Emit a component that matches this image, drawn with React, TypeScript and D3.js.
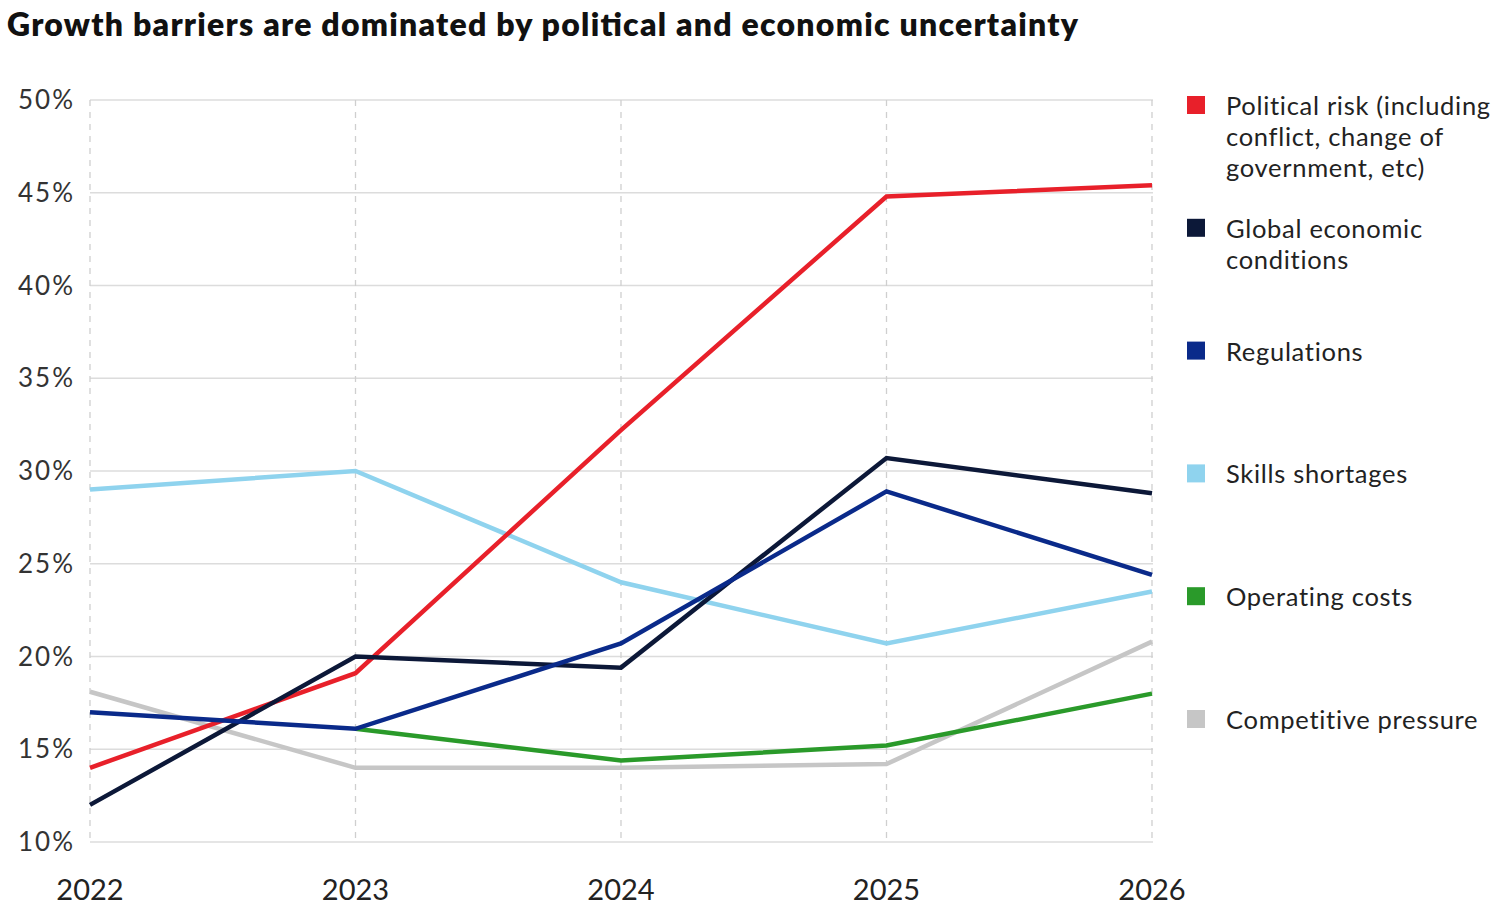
import React from "react";
import * as d3 from "d3";

const years = ["2022", "2023", "2024", "2025", "2026"];
const yTicks = [10, 15, 20, 25, 30, 35, 40, 45, 50];

const competitive = [18.1, 14, 14, 14.2, 20.8];
const skills = [29, 30, 24, 20.7, 23.5];
const operating: (number | null)[] = [null, 16.1, 14.4, 15.2, 18];
const political = [14, 19.1, 32.2, 44.8, 45.4];
const global = [12, 20, 19.4, 30.7, 28.8];
const regulations = [17, 16.1, 20.7, 28.9, 24.4];

const seriesNames = [
  "Competitive pressure",
  "Skills shortages",
  "Operating costs",
  "Political risk",
  "Global economic conditions",
  "Regulations",
];
const seriesValues = [competitive, skills, operating, political, global, regulations];
const seriesColors = ["#c6c6c6", "#8fd3ee", "#2a9a2a", "#e8202a", "#0c1838", "#0a2a8a"];

const legendLabels = [
  ["Political risk (including", "conflict, change of", "government, etc)"],
  ["Global economic", "conditions"],
  ["Regulations"],
  ["Skills shortages"],
  ["Operating costs"],
  ["Competitive pressure"],
];
const legendColors = ["#e8202a", "#0c1838", "#0a2a8a", "#8fd3ee", "#2a9a2a", "#c6c6c6"];

export default function App() {
  const width = 1500;
  const height = 922;
  const x = d3.scalePoint<string>().domain(years).range([90, 1152]);
  const y = d3.scaleLinear().domain([10, 50]).range([842, 100]);
  const line = d3
    .line<number | null>()
    .defined((d) => d != null)
    .x((_, i) => x(years[i]) as number)
    .y((d) => y(d as number));

  const font = "Lato, 'Open Sans', sans-serif";

  return (
    <svg
      width={width}
      height={height}
      style={{ position: "absolute", left: 0, top: 0, background: "#fff" }}
      fontFamily={font}
    >
      <text
        x={7}
        y={36}
        fontSize={32}
        fontWeight={800}
        fill="#111"
        textLength={1071}
        lengthAdjust="spacing"
      >
        Growth barriers are dominated by political and economic uncertainty
      </text>
      {yTicks.map((t) => (
        <g key={t}>
          <line x1={90} x2={1153} y1={y(t)} y2={y(t)} stroke="#dcdcdc" strokeWidth={1.5} />
          <text
            x={18}
            y={y(t) + 9}
            fontSize={26}
            fill="#333"
            textLength={55}
            lengthAdjust="spacing"
          >
            {t}%
          </text>
        </g>
      ))}
      {years.map((yr) => (
        <g key={yr}>
          <line
            x1={x(yr)}
            x2={x(yr)}
            y1={100}
            y2={842}
            stroke="#cfcfcf"
            strokeWidth={1.3}
            strokeDasharray="6,6"
          />
          <text x={x(yr)} y={900} textAnchor="middle" fontSize={29} fill="#222">
            {yr}
          </text>
        </g>
      ))}
      {seriesValues.map((vals, i) => (
        <path
          key={seriesNames[i]}
          d={line(vals) || ""}
          fill="none"
          stroke={seriesColors[i]}
          strokeWidth={4.5}
          strokeLinejoin="miter"
        />
      ))}
      {legendLabels.map((lines, i) => {
        const cy = 105 + i * 122.8;
        return (
          <g key={i}>
            <rect x={1187} y={cy - 9} width={18} height={18} fill={legendColors[i]} />
            {lines.map((l, j) => (
              <text
                key={j}
                x={1226}
                y={cy + 10 + j * 31}
                fontSize={25.5}
                letterSpacing={0.7}
                fill="#222"
              >
                {l}
              </text>
            ))}
          </g>
        );
      })}
    </svg>
  );
}
